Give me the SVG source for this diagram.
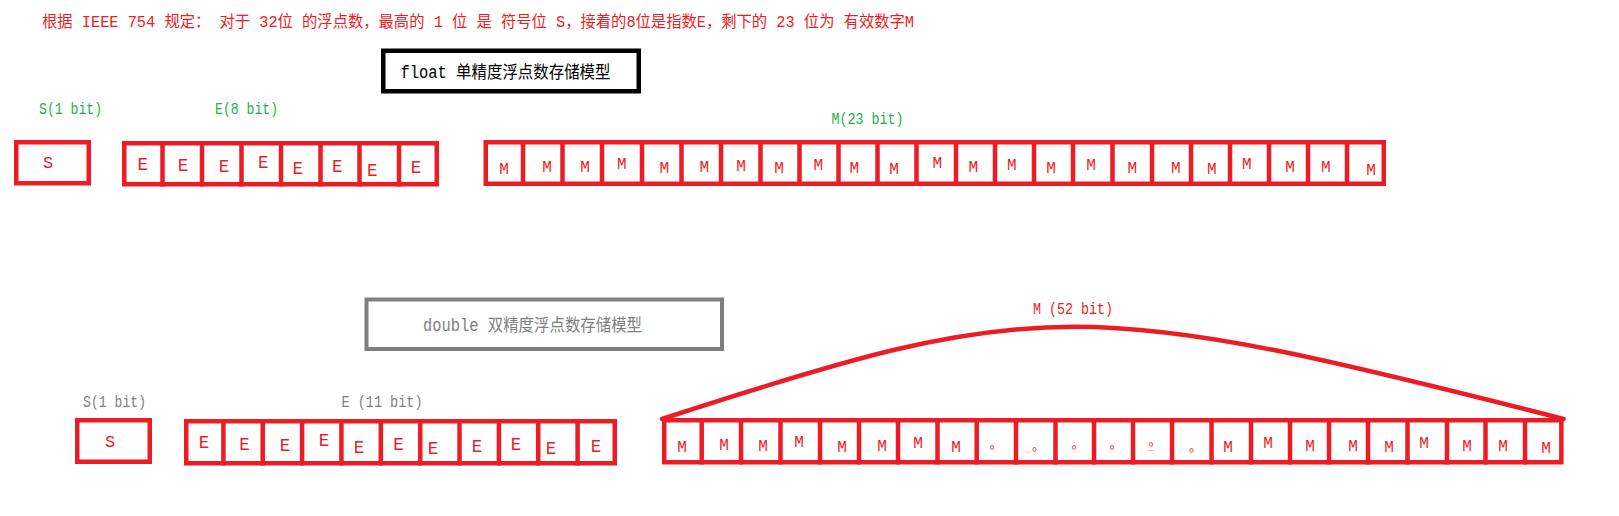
<svg xmlns="http://www.w3.org/2000/svg" width="1619" height="516" viewBox="0 0 1619 516">
<style>
.box{fill:none;stroke:#ed1c24;stroke-width:4.5}
.div{fill:none;stroke:#ed1c24;stroke-width:4.5}
.ch{font-family:'Liberation Mono','DejaVu Sans Mono',monospace;fill:#ed1c24;text-anchor:middle}
.e{font-size:17.5px}
.m{font-size:16px}
.s{font-size:17px}
.dot{font-family:'Noto Sans CJK TC',sans-serif;font-size:13px;fill:#ed1c24;text-anchor:middle}
.tiny{font-family:'Liberation Sans',sans-serif;fill:#ed1c24}
.lbl{font-family:'Liberation Mono','Noto Sans CJK SC',monospace;font-size:16px}
.green{fill:#22b14c}
.gray{fill:#7f7f7f}
.red{fill:#ed1c24}
.title{font-family:'Liberation Mono','Noto Sans CJK SC',monospace;font-size:17.5px}
.conn{fill:none;stroke:#ed1c24;stroke-width:4.5;stroke-linecap:round}
</style>
<rect width="1619" height="516" fill="#fff"/>

<g id="header">
<text class="lbl red" x="42" y="27" textLength="872" lengthAdjust="spacingAndGlyphs">根据 IEEE 754 规定： 对于 32位 的浮点数，最高的 1 位 是 符号位 S，接着的8位是指数E，剩下的 23 位为 有效数字M</text>
</g>

<g id="float-title">
<rect x="383.25" y="50.75" width="255.5" height="40.5" fill="none" stroke="#000" stroke-width="4.5"/>
<text class="title" x="400.5" y="77.5" fill="#000" textLength="210" lengthAdjust="spacingAndGlyphs">float 单精度浮点数存储模型</text>
</g>

<g id="float-labels">
<text class="lbl green" x="39" y="114" textLength="63" lengthAdjust="spacingAndGlyphs">S(1 bit)</text>
<text class="lbl green" x="215" y="114" textLength="63" lengthAdjust="spacingAndGlyphs">E(8 bit)</text>
<text class="lbl green" x="831.5" y="124" textLength="72" lengthAdjust="spacingAndGlyphs">M(23 bit)</text>
</g>

<g id="float-sign">
<rect class="box" x="16.25" y="142.25" width="72.5" height="41"/>
<text class="ch s" x="48" y="168">S</text>
</g>

<g id="float-exponent">
<rect class="box" x="124.25" y="143.25" width="312.5" height="41"/>
<path class="div" d="M162.5,141V186.5M202,141V186.5M241.5,141V186.5M281,141V186.5M320.5,141V186.5M359.5,141V186.5M399,141V186.5"/>
<text class="ch e" x="142.7" y="170">E</text>
<text class="ch e" x="183" y="170.5">E</text>
<text class="ch e" x="224" y="172">E</text>
<text class="ch e" x="263.3" y="167.7">E</text>
<text class="ch e" x="297.7" y="174">E</text>
<text class="ch e" x="337.3" y="171.7">E</text>
<text class="ch e" x="372.3" y="175.7">E</text>
<text class="ch e" x="416" y="173.3">E</text>
</g>

<g id="float-mantissa">
<rect class="box" x="485.75" y="142.25" width="898" height="41.5"/>
<path class="div" d="M523,140V186M562.5,140V186M602,140V186M642,140V186M681.5,140V186M721,140V186M760.5,140V186M799.5,140V186M838.5,140V186M877.5,140V186M916.5,140V186M956,140V186M995,140V186M1034,140V186M1073,140V186M1112.5,140V186M1152,140V186M1191,140V186M1230,140V186M1269,140V186M1308,140V186M1347,140V186"/>
<text class="ch m" x="504" y="174">M</text>
<text class="ch m" x="547" y="172.3">M</text>
<text class="ch m" x="585" y="172.3">M</text>
<text class="ch m" x="621.7" y="169">M</text>
<text class="ch m" x="664.3" y="173.3">M</text>
<text class="ch m" x="704.3" y="172.3">M</text>
<text class="ch m" x="741" y="170.7">M</text>
<text class="ch m" x="779" y="173.3">M</text>
<text class="ch m" x="818.3" y="170">M</text>
<text class="ch m" x="854.3" y="173.3">M</text>
<text class="ch m" x="894" y="174">M</text>
<text class="ch m" x="937.3" y="167.7">M</text>
<text class="ch m" x="973.3" y="171.7">M</text>
<text class="ch m" x="1011.7" y="170">M</text>
<text class="ch m" x="1051" y="173.3">M</text>
<text class="ch m" x="1091" y="170">M</text>
<text class="ch m" x="1132.3" y="172.7">M</text>
<text class="ch m" x="1175.7" y="172.7">M</text>
<text class="ch m" x="1211.7" y="174">M</text>
<text class="ch m" x="1246.7" y="169.3">M</text>
<text class="ch m" x="1290" y="172.3">M</text>
<text class="ch m" x="1325.7" y="171.7">M</text>
<text class="ch m" x="1371" y="175">M</text>
</g>

<g id="double-title">
<rect x="366.5" y="299.5" width="355.5" height="49.5" fill="none" stroke="#7f7f7f" stroke-width="4"/>
<text class="title gray" x="423" y="331" textLength="219" lengthAdjust="spacingAndGlyphs">double 双精度浮点数存储模型</text>
</g>

<g id="double-labels">
<text class="lbl gray" x="83" y="407" textLength="63" lengthAdjust="spacingAndGlyphs">S(1 bit)</text>
<text class="lbl gray" x="341.5" y="407" textLength="81" lengthAdjust="spacingAndGlyphs">E (11 bit)</text>
<text class="lbl red" x="1033" y="314" textLength="80" lengthAdjust="spacingAndGlyphs">M (52 bit)</text>
</g>

<g id="double-sign">
<rect class="box" x="77.25" y="420.25" width="72.5" height="41.5"/>
<text class="ch s" x="110" y="447">S</text>
</g>

<g id="double-exponent">
<rect class="box" x="186.25" y="421.25" width="428.5" height="42"/>
<path class="div" d="M223.4,419V465.5M262.7,419V465.5M302.1,419V465.5M341.4,419V465.5M380.8,419V465.5M420.2,419V465.5M459.5,419V465.5M498.9,419V465.5M538.2,419V465.5M577.6,419V465.5"/>
<text class="ch e" x="204" y="448.3">E</text>
<text class="ch e" x="244.6" y="450">E</text>
<text class="ch e" x="285" y="450.7">E</text>
<text class="ch e" x="324" y="446">E</text>
<text class="ch e" x="359" y="453.3">E</text>
<text class="ch e" x="398.6" y="450">E</text>
<text class="ch e" x="433" y="454">E</text>
<text class="ch e" x="477" y="451.7">E</text>
<text class="ch e" x="516" y="450">E</text>
<text class="ch e" x="551" y="454">E</text>
<text class="ch e" x="596" y="451.7">E</text>
</g>

<g id="double-mantissa">
<rect class="box" x="664.25" y="420.25" width="897.1" height="42"/>
<path class="div" d="M701.7,418V464.5M741,418V464.5M780.5,418V464.5M820,418V464.5M859,418V464.5M898,418V464.5M937.5,418V464.5M976.7,418V464.5M1016,418V464.5M1055.5,418V464.5M1094,418V464.5M1133,418V464.5M1172,418V464.5M1211.5,418V464.5M1251,418V464.5M1290,418V464.5M1329,418V464.5M1368,418V464.5M1407.5,418V464.5M1447,418V464.5M1485.5,418V464.5M1525,418V464.5"/>
<text class="ch m" x="682" y="451.7">M</text>
<text class="ch m" x="724" y="450">M</text>
<text class="ch m" x="763" y="450.7">M</text>
<text class="ch m" x="799" y="447">M</text>
<text class="ch m" x="842" y="451.7">M</text>
<text class="ch m" x="882" y="450.7">M</text>
<text class="ch m" x="918" y="448.3">M</text>
<text class="ch m" x="956" y="451.7">M</text>
<text class="dot" x="992" y="452.3">。</text>
<text class="dot" x="1033" y="453.8"><tspan class="tiny" font-size="6" dy="-1.3">...</tspan><tspan dx="-2" dy="1.3">。</tspan></text>
<text class="dot" x="1074" y="452.3">。</text>
<text class="dot" x="1112" y="452.3">。</text>
<text class="dot" x="1151" y="449.3">。<tspan class="tiny" x="1151" y="450.5" font-size="8">...</tspan></text>
<text class="dot" x="1191.5" y="454.8">。</text>
<text class="ch m" x="1228" y="451.7">M</text>
<text class="ch m" x="1268" y="448.3">M</text>
<text class="ch m" x="1310" y="451">M</text>
<text class="ch m" x="1353" y="451">M</text>
<text class="ch m" x="1389" y="452.3">M</text>
<text class="ch m" x="1424" y="448.3">M</text>
<text class="ch m" x="1467" y="450.7">M</text>
<text class="ch m" x="1503" y="450.7">M</text>
<text class="ch m" x="1546" y="453">M</text>
</g>

<g id="connectors">
<path class="conn" d="M662,419C1040,296 1082,296 1563.6,419"/>
</g>
</svg>
